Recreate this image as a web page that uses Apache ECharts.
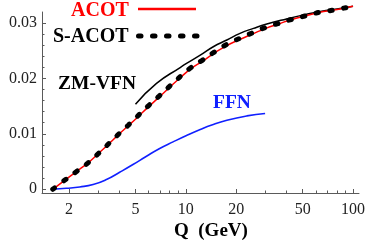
<!DOCTYPE html>
<html>
<head>
<meta charset="utf-8">
<script src="https://cdn.jsdelivr.net/npm/echarts@6/dist/echarts.min.js"></script>
<style>
html,body{margin:0;padding:0;background:#fff;}
#c{width:374px;height:252px;}
</style>
</head>
<body>
<div id="c"></div>
<script>
// ---- data (Q in GeV, value) ----
var sacotQ = [1.6, 1.91, 2.23, 2.6, 3.0, 3.47, 3.97, 4.51, 5.11, 5.95, 6.92, 8.02, 9.33, 10.7, 12.6, 14.9, 17.6, 21.0, 25.1, 30.1, 35.9, 43.1, 52.3, 63.2, 76.6, 93.3, 100];
var sacotV = [0, 0.00175, 0.00325, 0.00475, 0.00644, 0.00826, 0.00996, 0.0115, 0.0131, 0.0150, 0.01679, 0.0186, 0.0204, 0.0219, 0.02329, 0.02478, 0.02612, 0.0272, 0.02821, 0.02919, 0.0299, 0.03063, 0.03128, 0.0319, 0.0323, 0.0328, 0.0330];

var acotQ = [1.6, 1.91, 2.23, 2.6, 3.0, 3.47, 3.97, 4.51, 5.11, 5.95, 6.92, 8.02, 9.33, 10.7, 12.6, 14.9, 17.6, 21.0, 25.1, 30.1, 35.9, 43.1, 52.3, 63.2, 76.6, 93.3, 100];
var acotV = [0, 0.00175, 0.00325, 0.00475, 0.00644, 0.0082, 0.0099, 0.0114, 0.0129, 0.0148, 0.0166, 0.0184, 0.0202, 0.0217, 0.0231, 0.0246, 0.0259, 0.0270, 0.0280, 0.0290, 0.0298, 0.0306, 0.03125, 0.0319, 0.0323, 0.0328, 0.0330];

var zmQ = [5.0, 6.68, 9.2, 10.1, 12.2, 14.6, 17.6, 21.1, 25.4, 30.5, 40, 52, 65, 80, 100];
var zmV = [0.01534, 0.01908, 0.0219, 0.02269, 0.02419, 0.02569, 0.0269, 0.0281, 0.0290, 0.02978, 0.0307, 0.0315, 0.0321, 0.0325, 0.0330];

var ffnQ = [1.6, 1.93, 2.32, 2.79, 3.35, 4.02, 4.83, 5.82, 6.98, 8.39, 10.1, 12.2, 14.3, 17.6, 23.2, 29.8];
var ffnV = [0, 0.00018, 0.00042, 0.00085, 0.00175, 0.00307, 0.00446, 0.00596, 0.00735, 0.00854, 0.00969, 0.01078, 0.0116, 0.01245, 0.01323, 0.01366];

// ---- axis ticks ----
var xMajorTicks = [2, 5, 10, 20, 50, 100];
var xMinorTicks = [3, 4, 6, 7, 8, 9, 30, 40, 60, 70, 80, 90];
var yMajorTicks = [0, 0.01, 0.02, 0.03];
var yMinorTicks = [0.002, 0.004, 0.006, 0.008, 0.012, 0.014, 0.016, 0.018, 0.022, 0.024, 0.026, 0.028];

var qMin = 1.38, qMax = 108.6;
var yMin = -0.00067, yMax = 0.03195;

function lg(q) { return Math.log10(q); }
function pairs(qs, vs) { return qs.map(function (q, i) { return [lg(q), vs[i]]; }); }

var serif = '"Liberation Serif", "DejaVu Serif", serif';
var axisColor = '#5a5a5a';

var chart = echarts.init(document.getElementById('c'), null, { renderer: 'canvas' });
chart.setOption({
  animation: false,
  backgroundColor: '#fff',
  grid: { left: 42, right: 15, top: 12, bottom: 59, containLabel: false },
  xAxis: [{
    type: 'value', position: 'bottom', min: lg(qMin), max: lg(qMax),
    axisLine: { show: true, onZero: false, lineStyle: { color: axisColor, width: 1 } },
    axisTick: { show: true, inside: true, length: 4, lineStyle: { color: axisColor }, customValues: xMajorTicks.map(lg) },
    axisLabel: {
      show: true, margin: 9, color: '#222', fontFamily: serif, fontSize: 16,
      customValues: xMajorTicks.map(lg),
      formatter: function (v) { return String(Math.round(Math.pow(10, v))); }
    },
    splitLine: { show: false }
  }, {
    type: 'value', position: 'bottom', min: lg(qMin), max: lg(qMax),
    axisLine: { show: false, onZero: false },
    axisTick: { show: true, inside: true, length: 2.5, lineStyle: { color: axisColor }, customValues: xMinorTicks.map(lg) },
    axisLabel: { show: false },
    splitLine: { show: false }
  }],
  yAxis: [{
    type: 'value', position: 'left', min: yMin, max: yMax,
    axisLine: { show: true, onZero: false, lineStyle: { color: axisColor, width: 1 } },
    axisTick: { show: true, inside: true, length: 4, lineStyle: { color: axisColor }, customValues: yMajorTicks },
    axisLabel: {
      show: true, margin: 5, color: '#222', fontFamily: serif, fontSize: 16,
      customValues: yMajorTicks,
      formatter: function (v) { return v === 0 ? '0' : v.toFixed(2); }
    },
    splitLine: { show: false }
  }, {
    type: 'value', position: 'left', min: yMin, max: yMax,
    axisLine: { show: false, onZero: false },
    axisTick: { show: true, inside: true, length: 2.5, lineStyle: { color: axisColor }, customValues: yMinorTicks },
    axisLabel: { show: false },
    splitLine: { show: false }
  }],
  series: [{
    name: 'FFN', type: 'line', data: pairs(ffnQ, ffnV), smooth: true, showSymbol: false, clip: false,
    lineStyle: { color: '#1020ff', width: 1.6 }
  }, {
    name: 'ZM-VFN', type: 'line', data: pairs(zmQ, zmV), smooth: true, showSymbol: false, clip: false,
    lineStyle: { color: '#000', width: 1.5 }
  }, {
    name: 'ACOT', type: 'line', data: pairs(acotQ, acotV), smooth: true, showSymbol: false, clip: false,
    lineStyle: { color: '#ff0000', width: 1.5 }
  }, {
    name: 'S-ACOT', type: 'line', data: pairs(sacotQ, sacotV), smooth: true, showSymbol: false, clip: false,
    lineStyle: { color: '#000', width: 5, type: [2.5, 11.5], cap: 'round' }
  }],
  graphic: [
    { type: 'text', left: 71, top: 1, style: { text: 'ACOT', fill: '#ff0000', font: 'bold 20px ' + serif } },
    { type: 'line', shape: { x1: 138, y1: 9, x2: 196, y2: 9 }, style: { stroke: '#ff0000', lineWidth: 2.5 } },
    { type: 'text', left: 53, top: 27, style: { text: 'S-ACOT', fill: '#000', font: 'bold 20px ' + serif } },
    { type: 'line', shape: { x1: 138.5, y1: 36, x2: 200, y2: 36 }, style: { stroke: '#000', lineWidth: 5, lineDash: [2.5, 11.5], lineCap: 'round' } },
    { type: 'text', left: 58, top: 74, style: { text: 'ZM-VFN', fill: '#000', font: 'bold 19.5px ' + serif } },
    { type: 'text', left: 213, top: 93, style: { text: 'FFN', fill: '#1020ff', font: 'bold 19.5px ' + serif } },
    { type: 'text', left: 174, top: 222, style: { text: 'Q  (GeV)', fill: '#000', font: 'bold 19px ' + serif } }
  ]
});
</script>
</body>
</html>
